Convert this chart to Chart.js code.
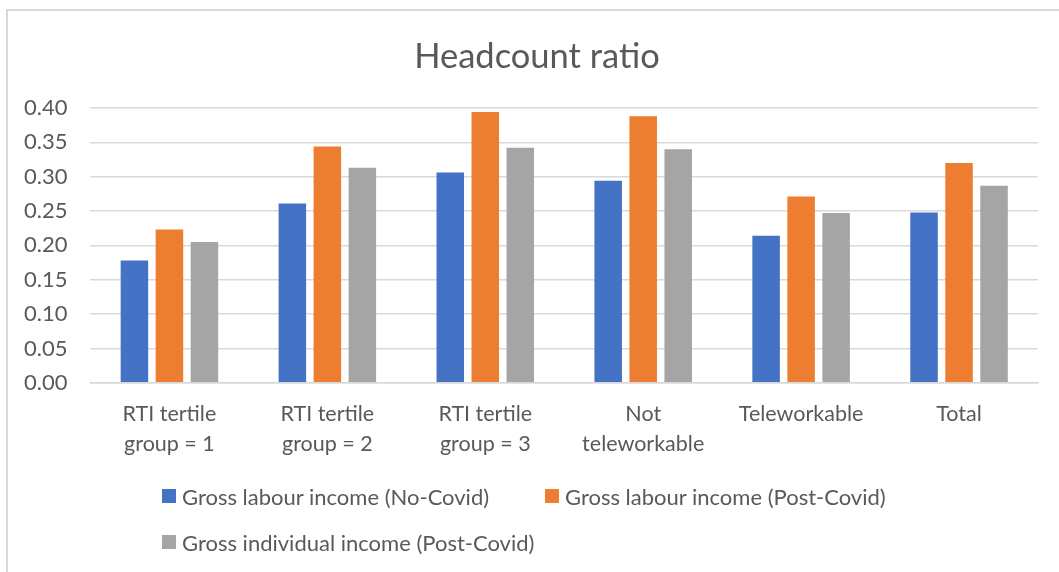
<!DOCTYPE html>
<html>
<head>
<meta charset="utf-8">
<script src="https://cdn.jsdelivr.net/npm/chart.js@4.4.0/dist/chart.umd.min.js"></script>
<style>
    html, body { margin: 0; padding: 0; background: #fff; overflow: hidden; }
    #frame {
        position: absolute; left: 6px; top: 9px; width: 1100px; height: 620px;
        border: 2px solid #d9d9d9; box-sizing: border-box;
    }
    #chart { position: absolute; left: 0; top: 0; }
    #title {
        position: absolute; left: 337px; top: 34px; width: 400px; text-align: center;
        font-family: Lato, sans-serif; font-size: 34.5px; line-height: 42px; color: #595959;
    }
    #legend {
        position: absolute; left: 162px; top: 473px; width: 800px;
        display: grid; grid-template-columns: 383px 383px; grid-auto-rows: 46px;
        font-family: Lato, sans-serif; font-size: 22px; color: #595959;
    }
    #legend .item { display: flex; align-items: center; white-space: nowrap; }
    #legend .box { width: 14px; height: 14px; margin-right: 6px; flex: none; }
</style>
</head>
<body>
<div id="frame"></div>
<canvas id="chart" width="1059" height="572"></canvas>
<div id="title">Headcount ratio</div>
<div id="legend"></div>
<script>
// categories (two-line labels) and the three series
const categories = [
    ['RTI tertile', 'group = 1'],
    ['RTI tertile', 'group = 2'],
    ['RTI tertile', 'group = 3'],
    ['Not', 'teleworkable'],
    'Teleworkable',
    'Total'
];
const seriesNames = [
    'Gross labour income (No-Covid)',
    'Gross labour income (Post-Covid)',
    'Gross individual income (Post-Covid)'
];
const labourNoCovid = [0.178, 0.261, 0.306, 0.294, 0.214, 0.248];
const labourPostCovid = [0.223, 0.344, 0.394, 0.388, 0.271, 0.320];
const individualPostCovid = [0.205, 0.313, 0.342, 0.340, 0.247, 0.287];
const yTicks = [0, 0.05, 0.10, 0.15, 0.20, 0.25, 0.30, 0.35, 0.40];

const colors = ['#4472C4', '#ED7D31', '#A5A5A5'];
const textColor = '#595959';
const gridColor = '#d9d9d9';

const values = [labourNoCovid, labourPostCovid, individualPostCovid];
const datasets = seriesNames.map((name, i) => ({
    label: name,
    data: values[i],
    backgroundColor: colors[i],
    borderWidth: 0,
    categoryPercentage: 0.665,
    barPercentage: 0.786
}));

const chart = new Chart(document.getElementById('chart'), {
    type: 'bar',
    data: { labels: categories, datasets: datasets },
    options: {
        responsive: false,
        animation: false,
        devicePixelRatio: 1,
        // title sits in its own div above, so the top padding leaves room for it
        layout: { padding: { left: 1, right: 21, top: 108, bottom: 97 } },
        plugins: {
            legend: { display: false },
            tooltip: { enabled: false },
            title: { display: false }
        },
        scales: {
            x: {
                grid: { display: false, drawTicks: false },
                border: { display: true, color: gridColor, width: 1.5 },
                ticks: {
                    color: textColor,
                    font: { family: 'Lato', size: 21.5, lineHeight: 1.4 },
                    padding: 16,
                    maxRotation: 0,
                    autoSkip: false
                }
            },
            y: {
                min: 0,
                max: 0.40,
                afterBuildTicks: axis => { axis.ticks = yTicks.map(v => ({ value: v })); },
                grid: { color: gridColor, lineWidth: 1.5, drawTicks: false },
                border: { display: false },
                ticks: {
                    color: textColor,
                    font: { family: 'Lato', size: 22 },
                    padding: 23,
                    callback: v => Number(v).toFixed(2)
                }
            }
        }
    }
});

// legend laid out in two columns below the chart
const legendEl = document.getElementById('legend');
chart.data.datasets.forEach(ds => {
    const item = document.createElement('div');
    item.className = 'item';
    item.innerHTML = `<span class="box" style="background:${ds.backgroundColor}"></span>${ds.label}`;
    legendEl.appendChild(item);
});
</script>
</body>
</html>
